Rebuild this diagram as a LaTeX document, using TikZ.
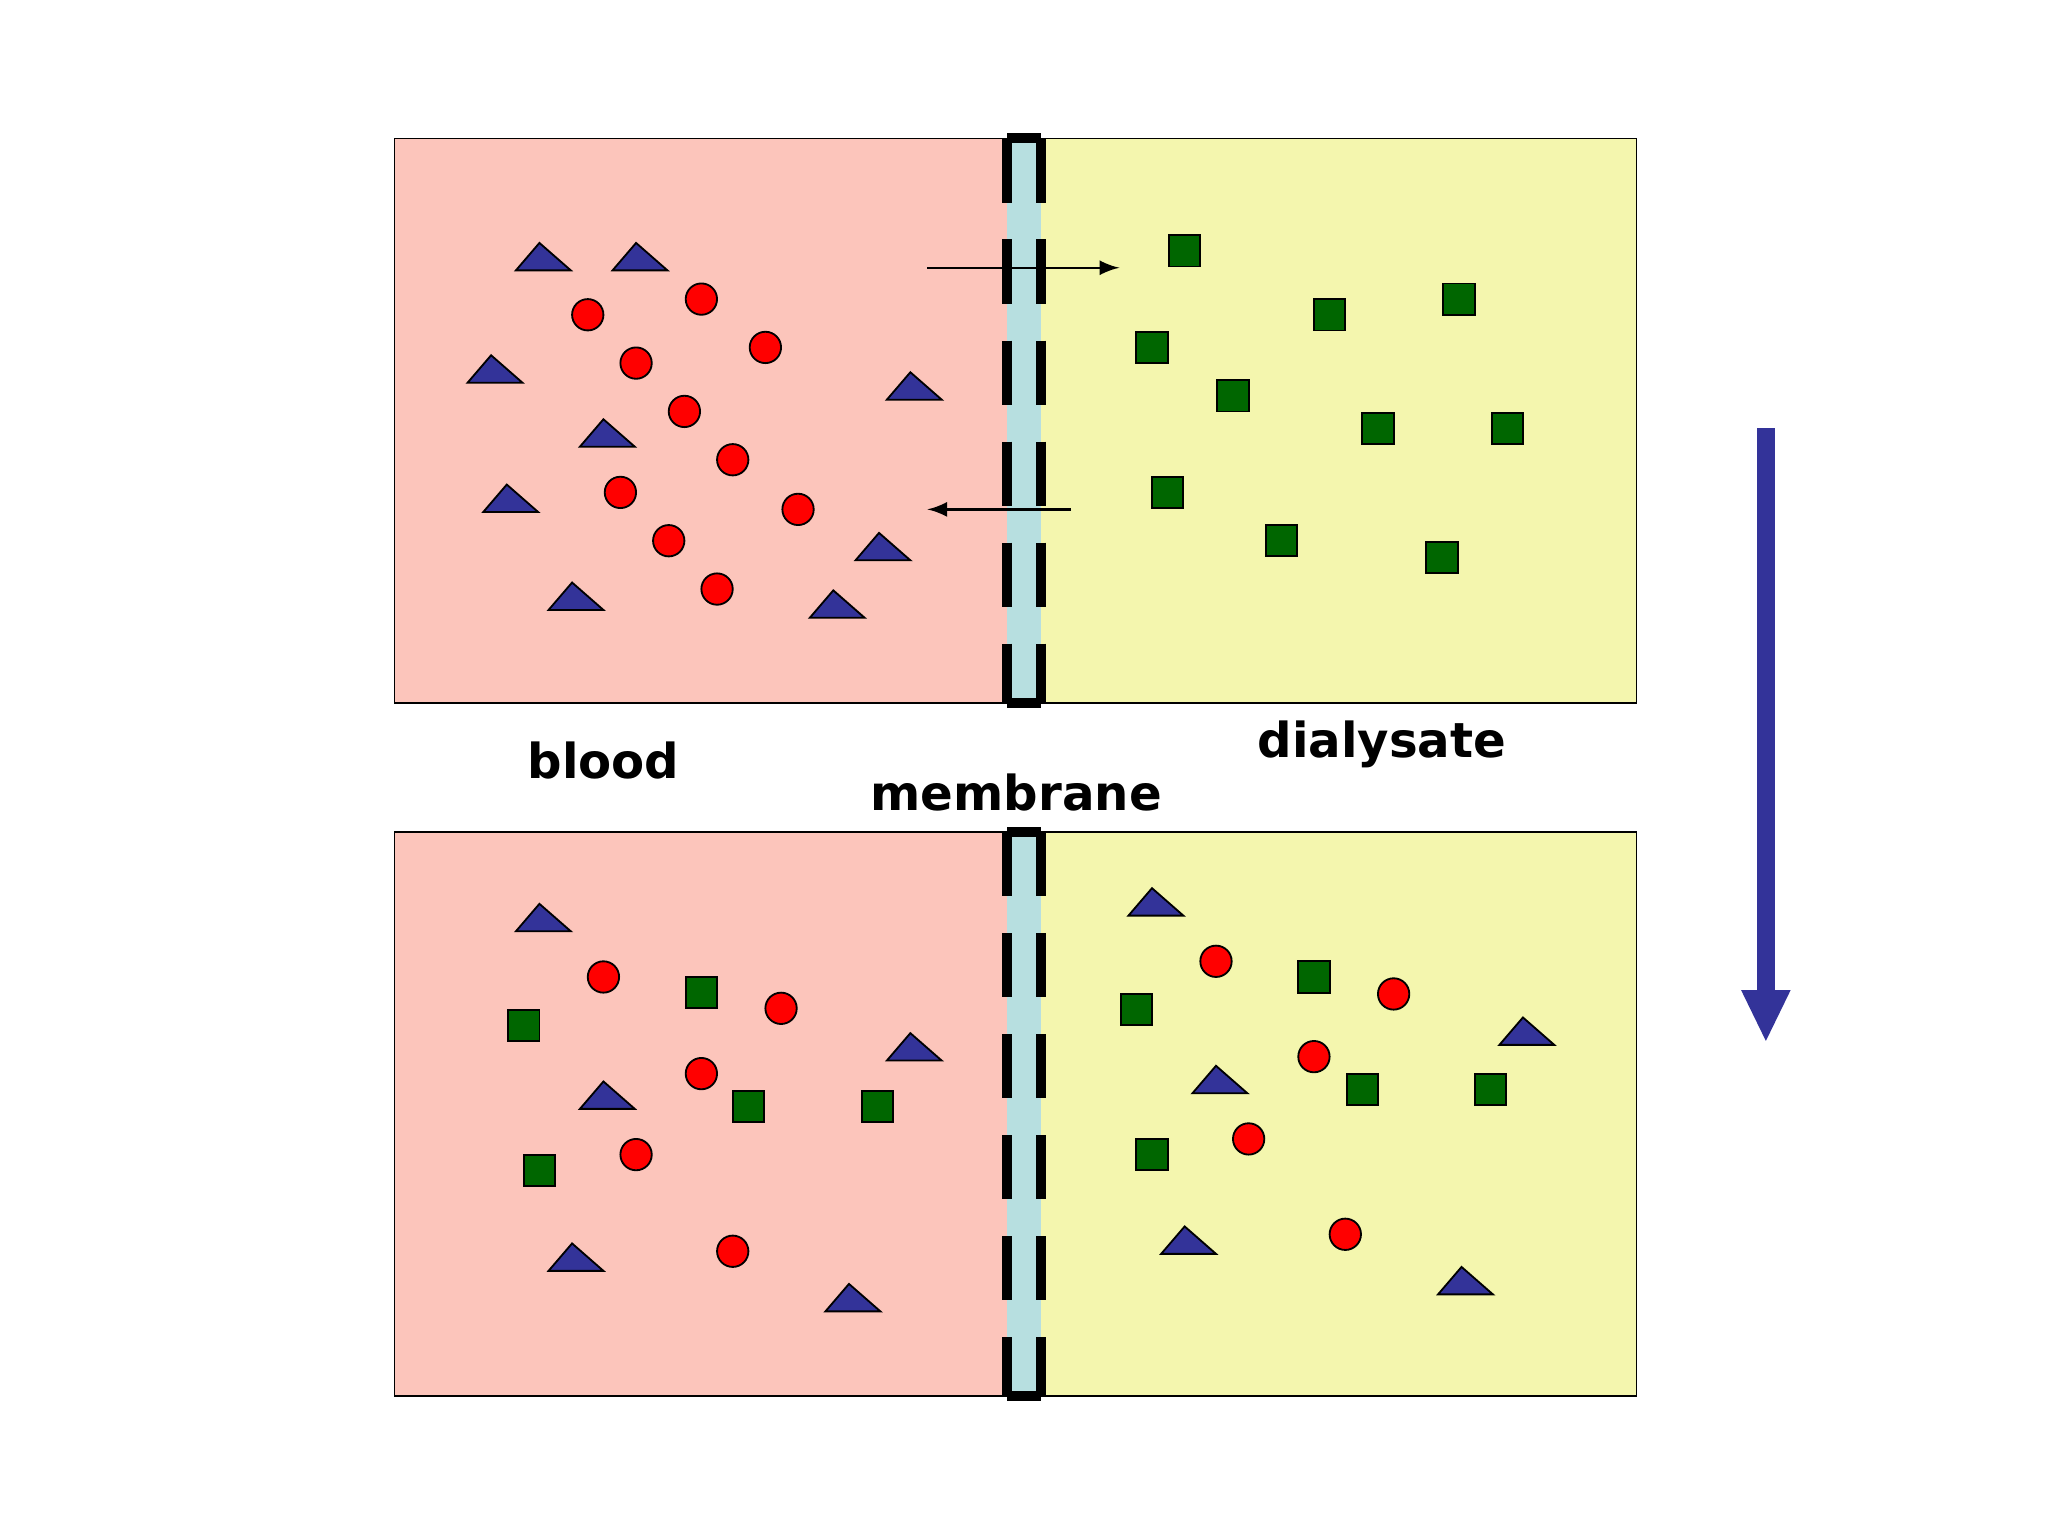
\documentclass[tikz,border=0pt]{standalone}
\usepackage{fontspec}
\setmainfont{DejaVu Sans}
\definecolor{bloodc}{RGB}{252,197,187}
\definecolor{dialc}{RGB}{244,246,174}
\definecolor{memc}{RGB}{183,223,224}
\definecolor{trc}{RGB}{51,51,153}
\definecolor{sqc}{RGB}{0,102,0}
\tikzset{
 box/.style={draw=black,line width=0.4pt},
 memline/.style={line width=2.2pt,dash pattern=on 14pt off 8pt},
 lbl/.style={font=\fontsize{10.5}{12}\selectfont\bfseries},
 thin arrow/.style={-latex,line width=0.5pt}
}
\newcommand{\mytri}[2]{\filldraw[fill=trc,draw=black,line width=0.4pt] (#1-21,#2+10)--(#1+21,#2+10)--(#1-3,#2-11)--cycle;}
\newcommand{\mycirc}[2]{\filldraw[fill=red,draw=black,line width=0.4pt] (#1,#2) circle (12);}
\newcommand{\mysq}[2]{\filldraw[fill=sqc,draw=black,line width=0.4pt] (#1-12,#2-12) rectangle (#1+12,#2+12);}
\newcommand{\mypanel}[1]{
 \fill[bloodc] (302,#1) rectangle (771,#1+432);
 \fill[dialc] (797,#1) rectangle (1253,#1+432);
 \fill[memc] (771,#1) rectangle (797,#1+432);
 \draw[box] (302,#1) rectangle (1253,#1+432);
 \draw[memline] (771,#1) -- (771,#1+432);
 \draw[memline] (797,#1) -- (797,#1+432);
 \draw[line width=2.2pt] (771,#1)--(797,#1) (771,#1+432)--(797,#1+432);
}
\begin{document}
\begin{tikzpicture}[x=0.01cm,y=-0.01cm]
\useasboundingbox (0,0) rectangle (1568,1176);
\mypanel{106}
\mypanel{637}
% top
\foreach \a/\b in {450/241,537/229,487/278,586/266,524/315,561/352,475/377,611/390,512/414,549/451}{\mycirc{\a}{\b}}
\foreach \a/\b in {416/197,490/197,379/283,700/296,465/332,391/382,676/419,441/457,641/463}{\mytri{\a}{\b}}
\foreach \a/\b in {907/192,1018/241,1117/229,882/266,944/303,1055/328,1154/328,894/377,981/414,1104/427}{\mysq{\a}{\b}}
\coordinate (a1) at (710,205); \coordinate (a2) at (857,205);
\coordinate (b1) at (820,390); \coordinate (b2) at (710,390);
\draw[thin arrow] (a1)--(a2);
\draw[thin arrow] (b1)--(b2);
% bottom
\foreach \a/\b in {416/703,465/839,700/802,441/963,653/994,885/691,934/827,1169/790,910/950,1122/981}{\mytri{\a}{\b}}
\foreach \a/\b in {462/748,598/772,537/822,487/884,561/958,931/736,1067/761,1006/809,956/872,1030/945}{\mycirc{\a}{\b}}
\foreach \a/\b in {537/760,401/785,573/847,672/847,413/896,1006/748,870/773,1043/834,1141/834,882/884}{\mysq{\a}{\b}}
% labels
\node[lbl] (blood) at (462,582) {blood};
\node[lbl] (dial) at (1058,570) {dialysate};
\node[lbl] (mem) at (778,607) {membrane};
% big arrow
\coordinate (c1) at (1352,328); \coordinate (c2) at (1352,797);
\fill[trc] (1345,328) rectangle (1359,760);
\fill[trc] (1333,758)--(1371,758)--(c2)--cycle;
\end{tikzpicture}
\end{document}
